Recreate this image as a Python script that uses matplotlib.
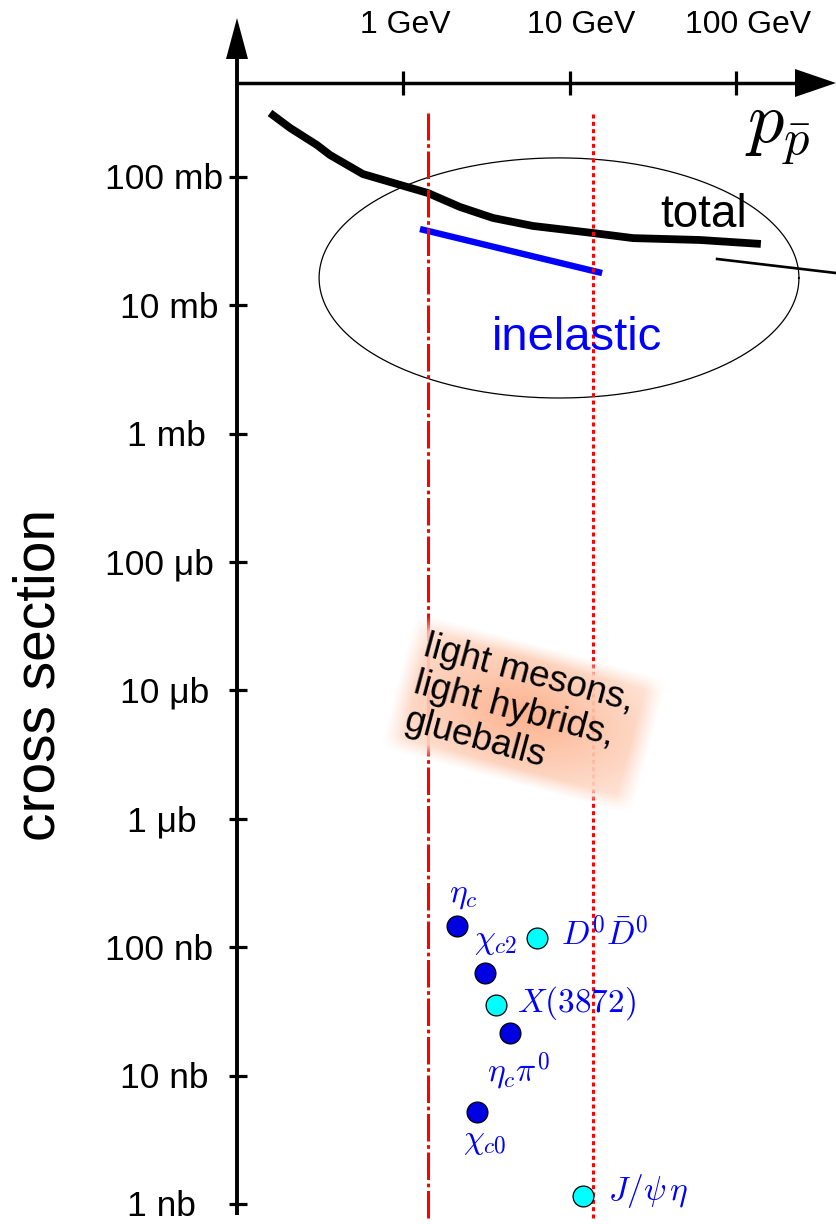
import matplotlib
matplotlib.use("Agg")
import matplotlib.pyplot as plt
import numpy as np
from matplotlib import transforms

plt.rcParams["font.family"] = ["Liberation Sans", "DejaVu Sans"]
plt.rcParams["mathtext.fontset"] = "cm"

W, H = 836, 1224

# axes: antiproton momentum (GeV/c) and cross section (mb)
p_ticks = [1, 10, 100]
p_tick_labels = ["1 GeV", "10 GeV", "100 GeV"]
sigma_ticks = [1e2, 1e1, 1e0, 1e-1, 1e-2, 1e-3, 1e-4, 1e-5, 1e-6]
sigma_tick_labels = ["100 mb", "10 mb", "1 mb", "100 μb", "10 μb", "1 μb",
                     "100 nb", "10 nb", "1 nb"]

# total and inelastic pbar-p cross sections (mb)
total_p = [0.159, 0.210, 0.304, 0.364, 0.575, 0.92, 1.41, 2.20, 3.47, 6.04,
           13.8, 24.1, 60.8, 141]
total_sigma = [314, 240, 177, 148, 105, 87.9, 74.8, 58.2, 47.8, 41.4, 36.5,
               33.3, 32.2, 30.0]
inel_p = [1.265, 15.7]
inel_sigma = [39.2, 17.8]
tail_p = [77, 400]
tail_sigma = [22.9, 17.8]

# momentum range (dash-dot / dotted lines)
p_low, p_high = 1.42, 13.9
line_top, line_bottom = 314, 7.8e-7

# charmonium channels (cross section in nb)
chan_labels = [r"$\eta_c$", r"$D^0\bar{D}^0$", r"$\chi_{c2}$", r"$X(3872)$",
               r"$\eta_c\pi^0$", r"$\chi_{c0}$", r"$J/\psi\,\eta$"]
chan_p = [2.12, 6.41, 3.12, 3.62, 4.39, 2.78, 12.1]
chan_sigma_nb = [147, 117, 62.6, 35.5, 21.6, 5.18, 1.16]
chan_kind = ["c", "o", "c", "o", "c", "c", "o"]
chan_offset = [(6, 24, "center"), (24, -7, "left"), (10, 25, "center"),
               (21, -7, "left"), (8, -49, "center"), (8, -36, "center"),
               (25, -4, "left")]

fig = plt.figure(figsize=(W / 100, H / 100), dpi=100)
ax = fig.add_axes([0, 0, 1, 1])
ax.set_xscale("log")
ax.set_yscale("log")
ax.set_xlim(10 ** (-403 / 166.5), 10 ** (433 / 166.5))
ax.set_ylim(10 ** (-20 / 128.4 - 6), 10 ** (1204 / 128.4 - 6))
ax.axis("off")

p_axis = 10 ** (-165 / 166.5)
sigma_axis = 10 ** ((1204 - 83) / 128.4 - 6)

# ticks
ax.plot([p_axis] * len(sigma_ticks), sigma_ticks, ls="none", marker="_",
        ms=13, mew=2.3, color="k", zorder=5)
ax.plot(p_ticks, [sigma_axis] * len(p_ticks), ls="none", marker="|",
        ms=17, mew=2.3, color="k", zorder=5)
for val, lab in zip(sigma_ticks, sigma_tick_labels):
    nd = len(lab.split()[0])
    dx = {3: -133, 2: -118, 1: -111}[nd]
    ax.annotate(lab, xy=(p_axis, val), xytext=(dx, -12.5),
                textcoords="offset pixels", ha="left", va="baseline",
                fontsize=25.5)
for val, lab, dx in zip(p_ticks, p_tick_labels, [-43, -43, -51]):
    ax.annotate(lab, xy=(val, sigma_axis), xytext=(dx, 50),
                textcoords="offset pixels", ha="left", va="baseline",
                fontsize=23)

# curves
ax.plot(total_p, total_sigma, color="k", lw=5.6, solid_capstyle="butt",
        solid_joinstyle="round", zorder=3)
ax.plot(inel_p, inel_sigma, color="blue", lw=4.6, solid_capstyle="butt", zorder=3)
ax.plot(tail_p, tail_sigma, color="k", lw=1.9, zorder=3)

# ellipse around the hadronic cross sections (drawn in log space)
t = np.linspace(0, 2 * np.pi, 400)
ex = 10 ** (np.log10(8.65) + 1.441 * np.cos(t))
ey = 10 ** (np.log10(16.3) + 0.935 * np.sin(t))
ax.plot(ex, ey, color="k", lw=0.9, zorder=2)

# momentum range lines
ax.plot([p_low, p_low], [line_bottom, line_top], color="red", lw=2.2,
        ls=(0, (9, 1.2, 1.2, 1.2)), zorder=4)
ax.plot([p_high, p_high], [line_bottom, line_top], color="red", lw=2.2,
        ls=(0, (1.3, 1.1)), zorder=4)

# channels
for lab, p, s, k, (dx, dy, ha) in zip(chan_labels, chan_p, chan_sigma_nb,
                                        chan_kind, chan_offset):
    fc = "#0000e0" if k == "c" else "#00ffff"
    ax.plot(p, s * 1e-6, marker="o", ms=15, mfc=fc, mec="k", mew=0.9,
            ls="none", zorder=6)
    ax.annotate(lab, xy=(p, s * 1e-6), xytext=(dx, dy),
                textcoords="offset pixels", ha=ha, va="baseline",
                fontsize=24, color="blue", zorder=6)

# overlay in pixel coordinates for axes arrows, labels and the shaded box
ov = fig.add_axes([0, 0, 1, 1])
ov.set_xlim(0, W)
ov.set_ylim(H, 0)
ov.axis("off")

ov.plot([237, 237], [1215, 50], color="k", lw=2.8, solid_capstyle="butt")
ov.fill([226, 248, 237], [59, 59, 18], color="k", lw=0)
ov.plot([237, 800], [83, 83], color="k", lw=2.5, solid_capstyle="butt")
ov.fill([795, 795, 836], [69, 97, 83], color="k", lw=0)

ov.text(745, 143, r"$p_{\bar{p}}$", fontsize=52, va="baseline")
ov.text(660, 227, "total", fontsize=33, va="baseline")
ov.text(492, 350, "inelastic", fontsize=34, va="baseline", color="blue")
ov.text(55, 675, "cross section", rotation=90, rotation_mode="anchor",
        ha="center", va="baseline", fontsize=41)

# shaded box
u = np.linspace(-1, 1, 400)
v = np.linspace(-1, 1, 220)
U, V = np.meshgrid(u, v)
r = np.sqrt(U ** 2 + V ** 2) / np.sqrt(2)
tt = np.clip(0.78 - 0.6 * r, 0, 1)
orange = np.array([0.99, 0.58, 0.38])
rgb = 1 - tt[..., None] * (1 - orange)
fu = np.clip((1 - np.abs(U)) / 0.15, 0, 1)
fv = np.clip((1 - np.abs(V)) / 0.22, 0, 1)
alpha = 0.92 * fu * fv
img = np.dstack([rgb, alpha])
tr = transforms.Affine2D().rotate_deg(15).translate(524, 714) + ov.transData
ov.imshow(img, extent=[-130, 130, -70, 70], transform=tr,
          interpolation="bilinear", aspect="auto", zorder=2)
ov.set_xlim(0, W)
ov.set_ylim(H, 0)
ov.text(519, 711, "light mesons,\nlight hybrids,\nglueballs", rotation=-15,
        rotation_mode="anchor", ha="center", va="center",
        multialignment="left", fontsize=26.5, linespacing=1.12, zorder=3)

fig.savefig("out.png", dpi=100)
